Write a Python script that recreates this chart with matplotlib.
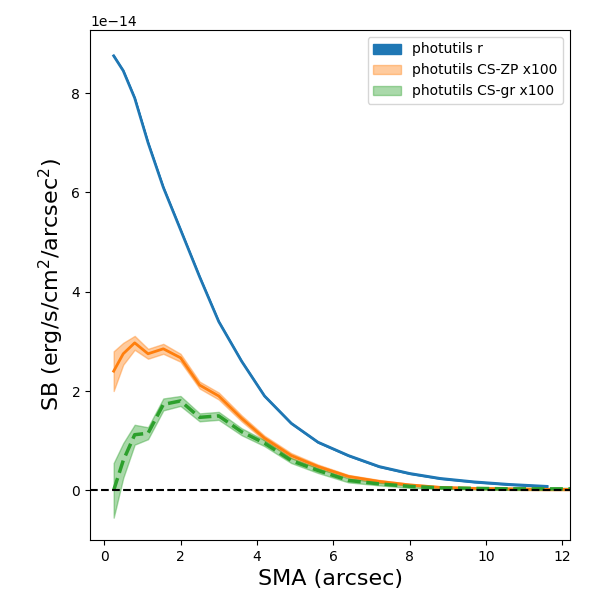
import numpy as np
import matplotlib.pyplot as plt

sma = [0.25, 0.5, 0.8, 1.15, 1.55, 2.0, 2.5, 3.0, 3.6, 4.2, 4.9, 5.6, 6.4, 7.2, 8.0, 8.8, 9.7, 10.6, 11.6, 12.6]
sb_r = [8.75, 8.45, 7.9, 7.0, 6.1, 5.25, 4.3, 3.4, 2.6, 1.9, 1.35, 0.97, 0.7, 0.48, 0.34, 0.24, 0.17, 0.12, 0.08, 0.06]
sb_zp = [2.4, 2.75, 2.97, 2.75, 2.85, 2.67, 2.12, 1.9, 1.45, 1.05, 0.7, 0.48, 0.28, 0.18, 0.11, 0.06, 0.04, 0.03, 0.02, 0.02]
err_zp = [0.4, 0.22, 0.14, 0.1, 0.1, 0.08, 0.07, 0.07, 0.06, 0.05, 0.05, 0.04, 0.03, 0.03, 0.02, 0.02, 0.02, 0.02, 0.02, 0.02]
sb_gr = [0.0, 0.6, 1.12, 1.15, 1.73, 1.8, 1.47, 1.5, 1.18, 0.95, 0.6, 0.4, 0.2, 0.13, 0.08, 0.05, 0.04, 0.03, 0.03, 0.03]
err_gr = [0.55, 0.35, 0.2, 0.12, 0.12, 0.1, 0.08, 0.08, 0.07, 0.06, 0.05, 0.05, 0.04, 0.03, 0.03, 0.02, 0.02, 0.02, 0.02, 0.02]

x = np.array(sma)
r = np.array(sb_r) * 1e-14
zp = np.array(sb_zp) * 1e-14
ezp = np.array(err_zp) * 1e-14
gr = np.array(sb_gr) * 1e-14
egr = np.array(err_gr) * 1e-14

fig, ax = plt.subplots(figsize=(6, 6), dpi=100)
ax.plot(x[:-1], r[:-1], color="C0", lw=2)
ax.fill_between(x[:-1], r[:-1] - 0.01e-14, r[:-1] + 0.01e-14, color="C0", label="photutils r")
ax.plot(x, zp, color="C1", lw=2)
ax.fill_between(x, zp - ezp, zp + ezp, color="C1", alpha=0.4, label="photutils CS-ZP x100")
ax.fill_between(x, gr - egr, gr + egr, color="C2", alpha=0.4, label="photutils CS-gr x100")
ax.plot(x, gr, color="C2", lw=2.5, ls="--")
ax.axhline(0, color="k", ls="--")
ax.set_xlim(-0.37, 12.2)
ax.set_ylim(-1.0e-14, 9.27e-14)
ax.set_xlabel("SMA (arcsec)", fontsize=16)
ax.set_ylabel("SB (erg/s/cm$^2$/arcsec$^2$)", fontsize=16)
ax.legend(loc="upper right")
fig.subplots_adjust(left=0.15, right=0.95, top=0.95, bottom=0.1)
fig.savefig("out.png", dpi=100)
